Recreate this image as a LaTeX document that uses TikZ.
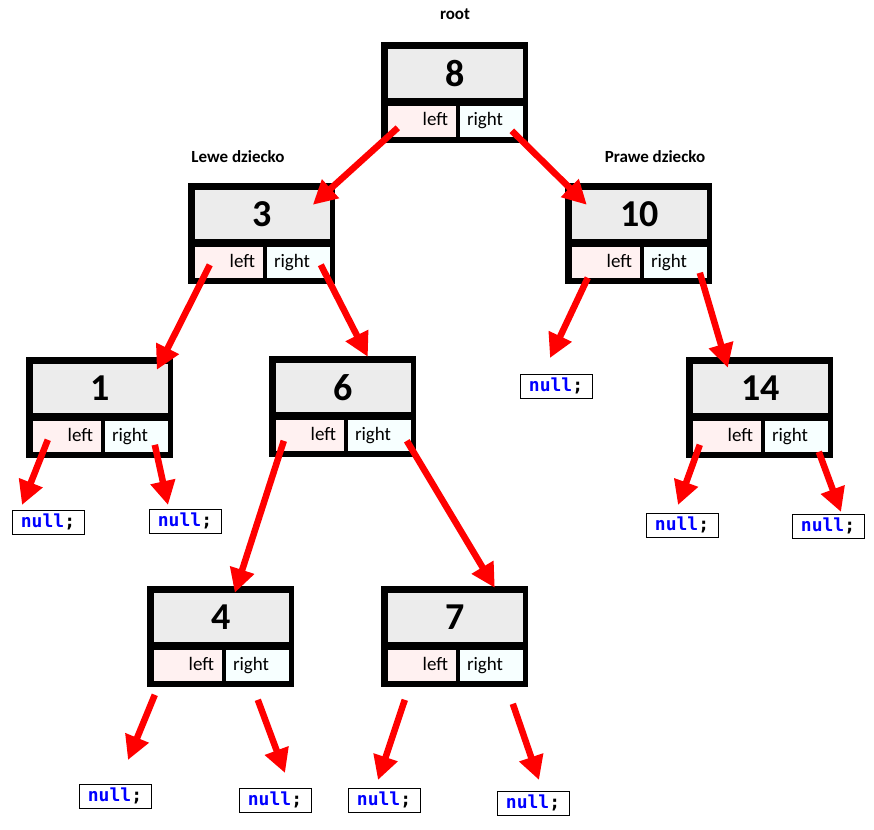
\documentclass[tikz,border=0pt]{standalone}
\usepackage{fontspec}
\setmainfont{Carlito}
\setmonofont{DejaVu Sans Mono}
\usetikzlibrary{arrows.meta}

\definecolor{cellgray}{RGB}{236,236,236}
\definecolor{leftpink}{RGB}{255,241,241}
\definecolor{rightcyan}{RGB}{247,255,255}
\definecolor{nullblue}{RGB}{0,0,255}

\tikzset{
  nodeframe/.style={fill=black, minimum width=147pt, minimum height=101pt, inner sep=0pt},
  valuecell/.style={fill=cellgray, minimum width=135pt, minimum height=49pt, inner sep=0pt,
    font=\fontsize{38}{40}\selectfont\bfseries},
  leftcell/.style={fill=leftpink, minimum height=31pt, inner xsep=8pt, inner ysep=0pt,
    text width=52pt, text height=13pt, text depth=4pt, align=right, font=\fontsize{19}{21}\selectfont},
  rightcell/.style={fill=rightcyan, minimum height=31pt, inner xsep=7pt, inner ysep=0pt,
    text width=49pt, text height=13pt, text depth=4pt, align=left, font=\fontsize{19}{21}\selectfont},
  nullbox/.style={draw=black, line width=1pt, minimum width=72pt, minimum height=24pt,
    inner sep=0pt, text=nullblue, font=\fontsize{18}{20}\selectfont\ttfamily\bfseries},
  ptr/.style={draw=red, line width=6.5pt, -{Triangle[length=24pt,width=24pt]}},
  heading/.style={font=\fontsize{17}{19}\selectfont\bfseries}
}

% tree node: name, left, top, value
\newcommand{\bstnode}[4]{%
  \begin{scope}[shift={(#2,#3)}]
    \node[nodeframe] (#1) at (73.5,50.5) {};
    \node[valuecell] (#1-v) at (74.5,31.5) {#4};
    \node[leftcell] (#1-l) at (41,79.5) {left};
    \node[rightcell] (#1-r) at (110.5,79.5) {right};
  \end{scope}}

\begin{document}
\begin{tikzpicture}[x=1pt,y=-1pt]
\useasboundingbox (0,0) rectangle (874,829);

% headings
\node[heading] (root) at (455,14) {root};
\node[heading] (lewe) at (238,157) {Lewe dziecko};
\node[heading] (prawe) at (655,157) {Prawe dziecko};

% tree nodes
\bstnode{n8}{381}{42}{8}
\bstnode{n3}{188}{183}{3}
\bstnode{n10}{565}{183}{10}
\bstnode{n1}{26}{357}{1}
\bstnode{n6}{269}{356}{6}
\bstnode{n14}{686}{357}{14}
\bstnode{n4}{147}{586}{4}
\bstnode{n7}{381}{586}{7}

% null leaves
\foreach \nm/\x/\y in {nul1l/48/522, nul1r/185/521, nul10l/556/386, nul14l/682/525,
    nul14r/828/526, nul4l/115/796, nul4r/275/800, nul7l/384/800, nul7r/533/803}
  \node[nullbox] (\nm) at (\x,\y) {null\textcolor{black}{;}};

% pointers to children
\draw[ptr] ([shift={(17,86)}]n8.north west) -- ([shift={(125,22)}]n3.north west);
\draw[ptr] ([shift={(131,89)}]n8.north west) -- ([shift={(22,22)}]n10.north west);
\draw[ptr] ([shift={(22,82)}]n3.north west) -- ([shift={(131,13)}]n1.north west);
\draw[ptr] ([shift={(133,82)}]n3.north west) -- ([shift={(99,1)}]n6.north west);
\draw[ptr] ([shift={(135,90)}]n10.north west) -- ([shift={(42,11)}]n14.north west);
\draw[ptr] ([shift={(15,85)}]n6.north west) -- ([shift={(88,7)}]n4.north west);
\draw[ptr] ([shift={(138,85)}]n6.north west) -- ([shift={(114,2)}]n7.north west);

% pointers to null
\draw[ptr] ([shift={(23,95)}]n10.north west) -- ([shift={(-6,-28)}]nul10l.center);
\draw[ptr] ([shift={(22,83)}]n1.north west) -- ([shift={(-26,-17)}]nul1l.center);
\draw[ptr] ([shift={(129,88)}]n1.north west) -- ([shift={(-17,-16)}]nul1r.center);
\draw[ptr] ([shift={(14,88)}]n14.north west) -- ([shift={(-4,-20)}]nul14l.center);
\draw[ptr] ([shift={(133,95)}]n14.north west) -- ([shift={(13,-14)}]nul14r.center);
\draw[ptr] ([shift={(8,109)}]n4.north west) -- ([shift={(13,-36)}]nul4l.center);
\draw[ptr] ([shift={(111,114)}]n4.north west) -- ([shift={(10,-27)}]nul4r.center);
\draw[ptr] ([shift={(24,114)}]n7.north west) -- ([shift={(-6,-20)}]nul7l.center);
\draw[ptr] ([shift={(132,118)}]n7.north west) -- ([shift={(6,-23)}]nul7r.center);

\end{tikzpicture}
\end{document}
